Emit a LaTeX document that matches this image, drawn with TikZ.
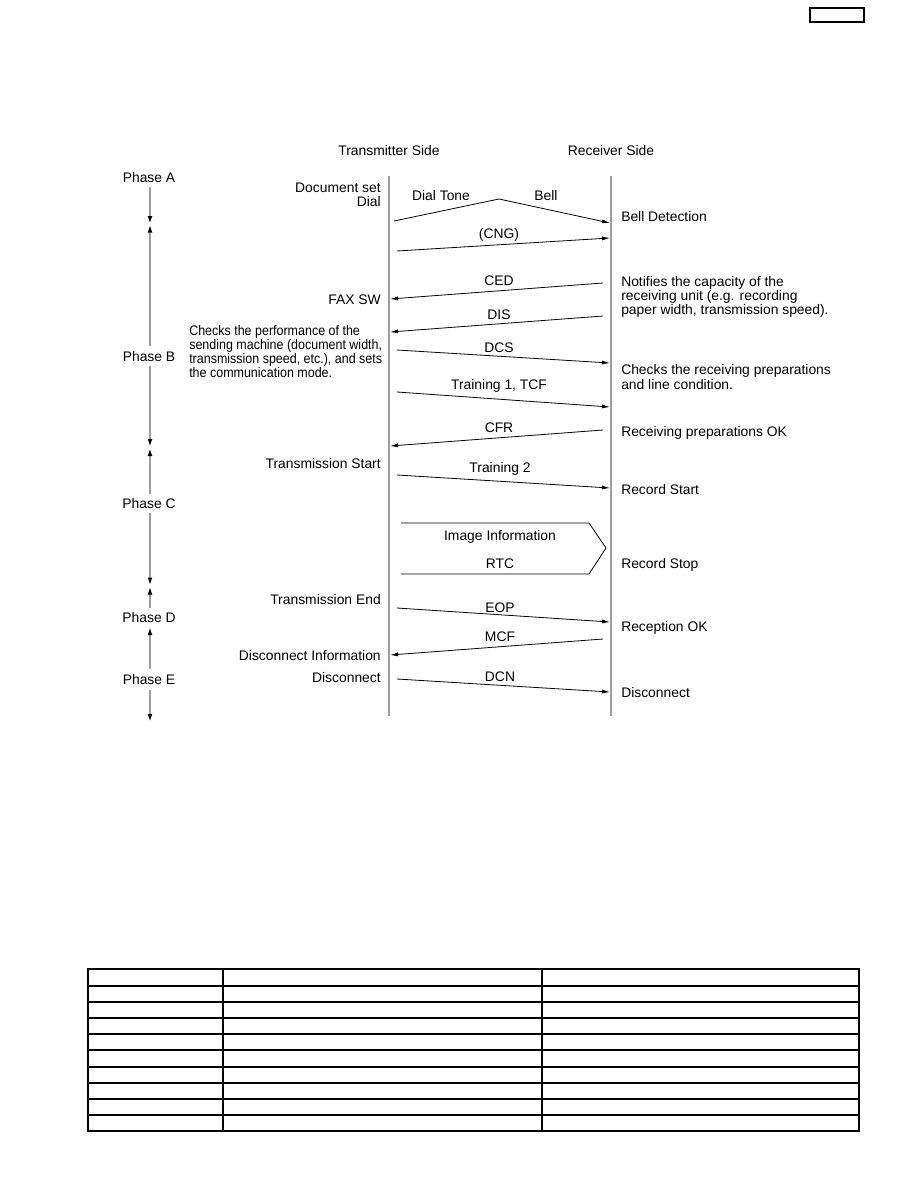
\documentclass[tikz,border=0pt]{standalone}
\usepackage{fontspec}
\setmainfont{Liberation Sans}
\newfontfamily\narrowsans[FakeStretch=0.9]{Liberation Sans}
\usetikzlibrary{arrows.meta}
\begin{document}
\begin{tikzpicture}[x=0.75pt,y=-0.75pt,
  lbl/.style={font=\fontsize{10.4}{10.6}\selectfont, inner sep=0pt},
  life/.style={draw=black!38, line width=1.5pt},
  msg/.style={line width=0.6pt, -{Latex[length=6pt,width=3pt]}},
  ph/.style={draw=black!38, line width=1.4pt, -{Latex[length=6pt,width=3.6pt,color=black]}},
  tbl/.style={line width=1.2pt}]
\useasboundingbox (0,0) rectangle (918,1188);

% top-right box
\draw[line width=1.1pt] (810,8) rectangle (864,22);

% headers
\node[lbl, anchor=base] (ht) at (389,155) {Transmitter Side};
\node[lbl, anchor=base] (hr) at (611,155) {Receiver Side};

% lifelines
\coordinate (T0) at (389,176); \coordinate (T1) at (389,716);
\coordinate (R0) at (611,176); \coordinate (R1) at (611,716);
\draw[life] (T0) -- (T1);
\draw[life] (R0) -- (R1);

% phase labels
\node[lbl, anchor=base] (pA) at (149,182) {Phase A};
\node[lbl, anchor=base] (pB) at (149,361) {Phase B};
\node[lbl, anchor=base] (pC) at (149,508) {Phase C};
\node[lbl, anchor=base] (pD) at (149,622) {Phase D};
\node[lbl, anchor=base] (pE) at (149,684) {Phase E};
\coordinate (ab) at (150,224);
\coordinate (eEnd) at (150,722);
\draw[ph] (150,187) -- (ab);
\draw[ph] (150,346) -- (150,224.5);
\draw[ph] (150,366) -- (150,447);
\draw[ph] (150,494) -- (150,448);
\draw[ph] (150,513) -- (150,585.5);
\draw[ph] (150,608) -- (150,586.5);
\draw[ph] (150,669) -- (150,627);
\draw[ph] (150,690) -- (eEnd);

% left side texts
\node[lbl, anchor=east, align=right] (docset) at (381,194.5) {Document set\\Dial};
\node[lbl, anchor=base east] (faxsw) at (381,304) {FAX SW};
\node[lbl, anchor=west, align=left, font=\narrowsans\fontsize{10.4}{10.7}\selectfont] (chkperf) at (189,351.5) {Checks the performance of the\\sending machine (document width,\\transmission speed, etc.), and sets\\the communication mode.};
\node[lbl, anchor=base east] (txstart) at (381,468) {Transmission Start};
\node[lbl, anchor=base east] (txend) at (381,604) {Transmission End};
\node[lbl, anchor=base east] (discinfo) at (381,660) {Disconnect Information};
\node[lbl, anchor=base east] (discL) at (381,682) {Disconnect};

% right side texts
\node[lbl, anchor=base west] (belldet) at (621,221) {Bell Detection};
\node[lbl, anchor=west, align=left] (notif) at (621,297) {Notifies the capacity of the\\receiving unit (e.g. recording\\paper width, transmission speed).};
\node[lbl, anchor=west, align=left] (chkrecv) at (621,377) {Checks the receiving preparations\\and line condition.};
\node[lbl, anchor=base west] (recvok) at (621,436) {Receiving preparations OK};
\node[lbl, anchor=base west] (recstart) at (621,494) {Record Start};
\node[lbl, anchor=base west] (recstop) at (621,568) {Record Stop};
\node[lbl, anchor=base west] (rcptok) at (621,631) {Reception OK};
\node[lbl, anchor=base west] (discR) at (621,697) {Disconnect};

% message labels
\node[lbl, anchor=base] (ldial) at (441,200) {Dial Tone};
\node[lbl, anchor=base] (lbell) at (546,200) {Bell};
\node[lbl, anchor=base] (lcng) at (499,238) {(CNG)};
\node[lbl, anchor=base] (lced) at (499,285) {CED};
\node[lbl, anchor=base] (ldis) at (499,319) {DIS};
\node[lbl, anchor=base] (ldcs) at (499,352) {DCS};
\node[lbl, anchor=base] (ltcf) at (499,389) {Training 1, TCF};
\node[lbl, anchor=base] (lcfr) at (499,432) {CFR};
\node[lbl, anchor=base] (ltr2) at (500,472) {Training 2};
\node[lbl, anchor=base] (limg) at (500,540) {Image Information};
\node[lbl, anchor=base] (lrtc) at (500,568) {RTC};
\node[lbl, anchor=base] (leop) at (500,612) {EOP};
\node[lbl, anchor=base] (lmcf) at (500,641) {MCF};
\node[lbl, anchor=base] (ldcn) at (500,681) {DCN};

% message arrows
\coordinate (d1) at (394,221); \coordinate (d2) at (499,199); \coordinate (d3) at (610,223);
\draw[msg] (d1) -- (d2) -- (d3);
\coordinate (c1) at (397,251); \coordinate (c2) at (610,238);
\draw[msg] (c1) -- (c2);
\coordinate (e1) at (603,283); \coordinate (e2) at (390,299);
\draw[msg] (e1) -- (e2);
\coordinate (s1) at (603,316); \coordinate (s2) at (390,332);
\draw[msg] (s1) -- (s2);
\coordinate (k1) at (397,350); \coordinate (k2) at (610,363);
\draw[msg] (k1) -- (k2);
\coordinate (t1) at (397,392); \coordinate (t2) at (610,407);
\draw[msg] (t1) -- (t2);
\coordinate (f1) at (603,430); \coordinate (f2) at (390,446);
\draw[msg] (f1) -- (f2);
\coordinate (g1) at (397,475); \coordinate (g2) at (610,488);
\draw[msg] (g1) -- (g2);
\coordinate (o1) at (397,608); \coordinate (o2) at (610,622);
\draw[msg] (o1) -- (o2);
\coordinate (m1) at (603,639); \coordinate (m2) at (390,655);
\draw[msg] (m1) -- (m2);
\coordinate (n1) at (397,679); \coordinate (n2) at (610,692);
\draw[msg] (n1) -- (n2);

% image information block
\coordinate (i1) at (401,523); \coordinate (i2) at (589,523);
\coordinate (i3) at (606,548); \coordinate (i4) at (589,574); \coordinate (i5) at (401,574);
\draw[line width=0.6pt] (i1) -- (i2) -- (i3) -- (i4) -- (i5);

% table
\draw[tbl] (88,969) rectangle (859,1131);
\foreach \yy in {986,1002,1018,1034,1050,1067,1083,1099,1115}
  \draw[tbl] (88,\yy) -- (859,\yy);
\draw[tbl] (223,969) -- (223,1131);
\draw[tbl] (542,969) -- (542,1131);
\end{tikzpicture}
\end{document}
